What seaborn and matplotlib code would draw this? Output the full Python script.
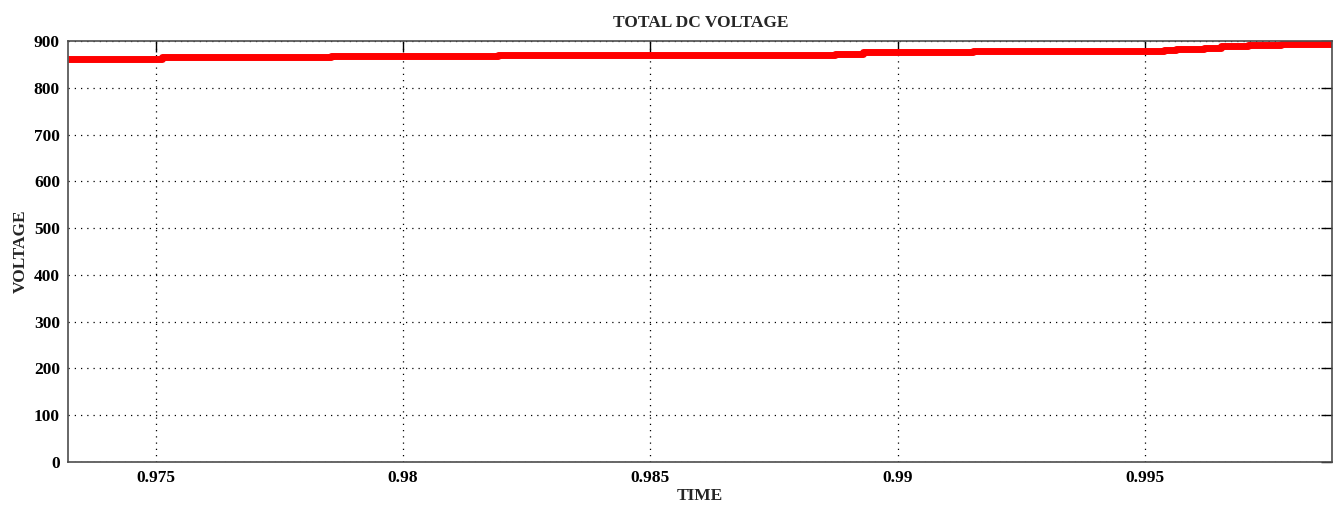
import matplotlib
matplotlib.use("Agg")
import matplotlib.pyplot as plt
import seaborn as sns
import pandas as pd
import numpy as np

# step change times and the voltage level that starts at each
step_times = [0.97323, 0.97512, 0.97855, 0.98192, 0.98873, 0.98929, 0.99152,
              0.99539, 0.99563, 0.99620, 0.99654, 0.99709, 0.99776, 0.99879]
step_values = [862, 865, 867.5, 870, 872.5, 875.5, 878.5,
               880.5, 883, 886, 888.5, 891, 893.5, 893.5]

x_ticks = [0.975, 0.98, 0.985, 0.99, 0.995]
x_tick_labels = ["0.975", "0.98", "0.985", "0.99", "0.995"]
y_ticks = [0, 100, 200, 300, 400, 500, 600, 700, 800, 900]

sns.set_style("white")
plt.rcParams['font.family'] = ['Liberation Serif', 'DejaVu Serif']

df = pd.DataFrame({"TIME": step_times, "VOLTAGE": step_values})

fig = plt.figure(figsize=(13.41, 5.08), dpi=100)
ax = fig.add_axes([68.3/1341, 46/508, (1332.3-68.3)/1341, (462-41)/508])

ax.step(df["TIME"], df["VOLTAGE"], where="post", color="#ff0000", linewidth=5.0, solid_capstyle="butt")

ax.set_xlim(0.97323, 0.99879)
ax.set_ylim(0, 900)
ax.set_xticks(x_ticks)
ax.set_xticklabels(x_tick_labels)
ax.set_yticks(y_ticks)

ax.grid(True, color="black", linestyle=(0, (1, 4)), linewidth=0.9)
ax.tick_params(direction="in", length=8, width=1, top=True, right=True,
               labelsize=12.5, colors="black", pad=6)
ax.tick_params(axis="x", pad=5.5)
for lab in ax.get_xticklabels() + ax.get_yticklabels():
    lab.set_fontweight("bold")
for s in ax.spines.values():
    s.set_color("#4d4d4d")
    s.set_linewidth(1.2)

ax.set_title("TOTAL DC VOLTAGE", fontsize=12.5, fontweight="bold", pad=10)
ax.set_xlabel("TIME", fontsize=12.5, fontweight="bold", labelpad=2)
ax.set_ylabel("VOLTAGE", fontsize=12.5, fontweight="bold", labelpad=3.5)

fig.savefig("out.png", dpi=100)
